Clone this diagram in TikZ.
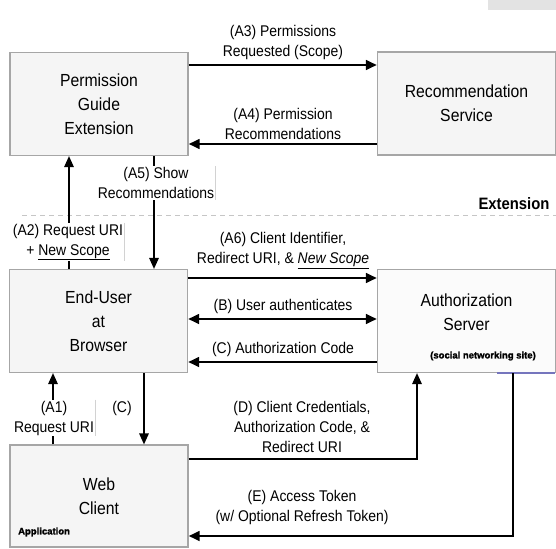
\documentclass[tikz,border=0pt]{standalone}
\usepackage{fontspec}
\setmainfont{Liberation Sans}[FakeStretch=0.9]
\newfontfamily\tagfont{Liberation Sans}[BoldFeatures={FakeBold=1.6}]
\usetikzlibrary{arrows.meta,positioning,calc}

\begin{document}
\begin{tikzpicture}[x=1pt,y=-1pt,>={Triangle[length=11pt,width=9.5pt]},
  box/.style={draw=gray!70,line width=1.2pt,fill=gray!8,minimum width=178pt,
    minimum height=103pt,align=center,font=\fontsize{17.5}{24}\selectfont},
  lbl/.style={align=center,inner sep=1pt,font=\fontsize{15.5}{20}\selectfont},
  flow/.style={line width=2.6pt},
  thinflow/.style={line width=1.6pt},
  edgeline/.style={draw=gray!35,line width=0.8pt},
  tag/.style={font=\tagfont\bfseries\fontsize{9.5}{11}\selectfont,inner sep=0pt}]
\useasboundingbox (0,0) rectangle (556,548);
\fill[gray!22] (488,0) rectangle (556,10);
\draw[gray!45,line width=0.8pt,dash pattern=on 5pt off 4pt] (22,215) -- (556,215);
\node[anchor=east,font=\fontsize{16.5}{20}\selectfont\bfseries] (ext) at (553,204) {Extension};

% the five parties
\node[box] (pg) at (99,104) {Permission\\Guide\\Extension};
\node[box] (rs) at (466.5,103.5) {Recommendation\\Service};
\node[box] (eu) at (98.5,321) {End-User\\at\\Browser};
\node[box,fill=gray!3,text depth=18pt] (as) at (466.5,321) {Authorization\\Server};
\node[box,minimum height=102pt] (wc) at (99,496) {Web\\Client};
\node[tag] (site) at (483,356) {(social networking site)};
\node[tag,anchor=west] (app) at (18,532) {Application};
\draw[blue!35!gray!80,line width=1.2pt] (497,373) -- (555,373);

% extension flows
\draw[flow,->] (pg.east |- 0,65) -- (rs.west |- 0,65);
\draw[flow,<-] (pg.east |- 0,144) -- (rs.west |- 0,144);
\draw[thinflow,->] (69,0 |- eu.north) -- (69,0 |- pg.south);
\draw[thinflow,->] (154,0 |- pg.south) -- (154,0 |- eu.north);

% authorization code flows
\draw[flow,->] (eu.east |- 0,278) -- (as.west |- 0,278);
\draw[flow,<->] (eu.east |- 0,319) -- (as.west |- 0,319);
\draw[flow,<-] (eu.east |- 0,362) -- (as.west |- 0,362);
\draw[thinflow,->] (53,0 |- wc.north) -- (53,0 |- eu.south);
\draw[thinflow,->] (144,0 |- eu.south) -- (144,0 |- wc.north);
\draw[thinflow,->] (wc.east |- 0,459) -| (417,0 |- as.south);
\draw[flow,->] (as.south -| 513,0) |- (wc.east |- 0,536);

% labels
\node[lbl] (a3) at (283,42.5) {(A3) Permissions\\Requested (Scope)};
\node[lbl] (a4) at (283,124) {(A4) Permission\\Recommendations};
\node[lbl,fill=white] (a5) at (156,183) {(A5) Show\\Recommendations};
\node[lbl,fill=white] (a2) at (68,242) {(A2) Request URI\\+ \underline{New Scope}};
\node[lbl] (a6) at (283,250.5) {(A6) Client Identifier,\\Redirect URI, \& \underline{\itshape New Scope}};
\node[lbl] (b) at (283,306) {(B) User authenticates};
\node[lbl] (c) at (283,349) {(C) Authorization Code};
\node[lbl,fill=white] (a1) at (54,418) {(A1)\\Request URI};
\node[lbl] (c2) at (122,408) {(C)};
\node[lbl] (d) at (302,427) {(D) Client Credentials,\\Authorization Code, \&\\Redirect URI};
\node[lbl] (e) at (302,507) {(E) Access Token\\(w/ Optional Refresh Token)};
\draw[edgeline] (a5.north east) -- (a5.south east);
\draw[edgeline] (a2.north east) -- (a2.south east);
\draw[edgeline] (a1.north east) -- (a1.south east);
\end{tikzpicture}
\end{document}
